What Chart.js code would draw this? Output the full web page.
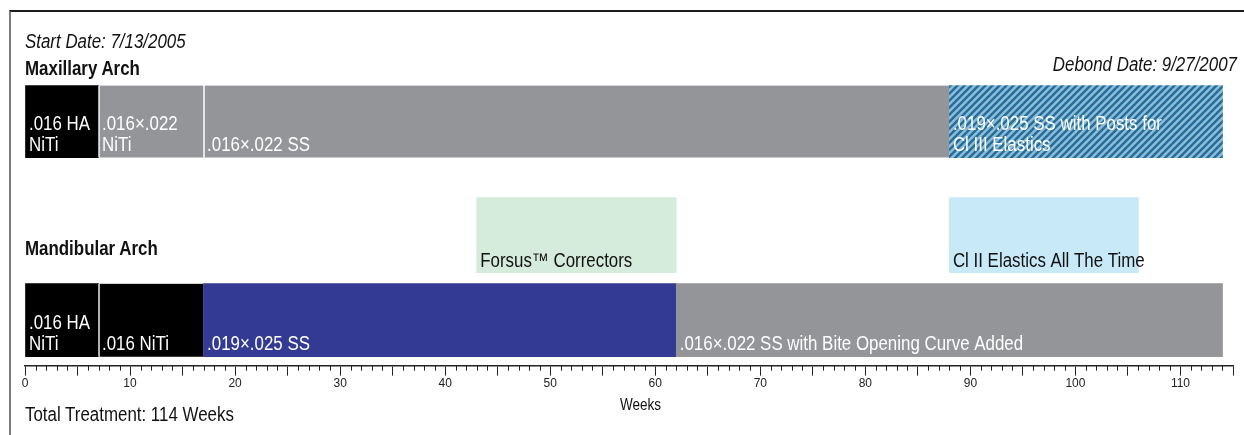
<!DOCTYPE html>
<html>
<head>
<meta charset="utf-8">
<script src="https://cdn.jsdelivr.net/npm/chart.js@4"></script>
<style>
  body { margin: 0; background: #fff; }
  #wrap { position: relative; width: 1244px; height: 435px; overflow: hidden; font-family: 'Liberation Sans', Arial, sans-serif; color: #111; }
  #frame { position: absolute; left: 9px; top: 10px; width: 1300px; height: 500px; border-top: 2px solid #1c1c1c; border-left: 2px solid #7d7d7d; }
  .note { position: absolute; font-size: 20px; line-height: 20px; white-space: nowrap; transform: scaleX(0.845); transform-origin: left top; }
  .it { font-style: italic; }
  .bd { font-weight: bold; }
  canvas { position: absolute; left: 0; top: 0; }
</style>
</head>
<body>
<div id="wrap">
  <div id="frame"></div>
  <canvas id="myChart" width="1244" height="435"></canvas>
  <div class="note it" style="left:25px; top:31px;">Start Date: 7/13/2005</div>
  <div class="note bd" style="left:25px; top:58px;">Maxillary Arch</div>
  <div class="note it" style="right:7px; top:54px; transform-origin: right top;">Debond Date: 9/27/2007</div>
  <div class="note bd" style="left:25px; top:238px;">Mandibular Arch</div>
  <div class="note" style="left:25px; top:404px;">Total Treatment: 114 Weeks</div>
  <div class="note" style="left:620px; top:397px; font-size:16px; line-height:16px;">Weeks</div>
</div>
<script>
'use strict';

// DATA
let maxillaryWires = ['.016 HA\nNiTi', '.016×.022\nNiTi', '.016×.022 SS', '.019×.025 SS with Posts for\nCl III Elastics'];
let maxillaryWeeks = [[0, 7], [7, 17], [17, 88], [88, 114]];

let applianceNames = ['Forsus™ Correctors', 'Cl II Elastics All The Time'];
let applianceWeeks = [[43, 62], [88, 106]];

let mandibularWires = ['.016 HA\nNiTi', '.016 NiTi', '.019×.025 SS', '.016×.022 SS with Bite Opening Curve Added'];
let mandibularWeeks = [[0, 7], [7, 17], [17, 62], [62, 114]];

let weekTicks = [0, 10, 20, 30, 40, 50, 60, 70, 80, 90, 100, 110];
let totalWeeks = 115;

// LAYOUT / STYLE
let FONT = "'Liberation Sans', Arial, sans-serif";
let NARROW = 0.845;
let rowMax = 1.5;
let rowApp = 5.5;
let rowMand = 8.5;

// hatched fill for the last upper wire
function makeHatch() {
  let c = document.createElement('canvas');
  c.width = 7;
  c.height = 7;
  let g = c.getContext('2d');
  g.fillStyle = '#91bcd8';
  g.fillRect(0, 0, 7, 7);
  g.strokeStyle = '#236f9c';
  g.lineWidth = 2.5;
  g.beginPath();
  g.moveTo(-1, 8); g.lineTo(8, -1);
  g.moveTo(-4.5, 4.5); g.lineTo(4.5, -4.5);
  g.moveTo(2.5, 11.5); g.lineTo(11.5, 2.5);
  g.stroke();
  return g.createPattern(c, 'repeat');
}

let maxColors = ['#000000', '#939598', '#939598', makeHatch()];
let maxSeps = [0, 1.5, 1.5, 0];
let appColors = ['#d5ebdc', '#c7e9f8'];
let mandColors = ['#000000', '#000000', '#333a93', '#939598'];
let mandSeps = [0, 1.5, 0, 0];

function toPoints(weeks, row) {
  let pts = [];
  for (let i = 0; i < weeks.length; i++) {
    pts.push({ x: weeks[i], y: row });
  }
  return pts;
}

function sepBorders(seps) {
  return seps.map(s => ({ left: s, right: 0, top: 0, bottom: 0 }));
}

// bar text, bottom-left inside each segment
let barLabels = {
  id: 'barLabels',
  afterDatasetsDraw(chart) {
    let ctx = chart.ctx;
    chart.data.datasets.forEach((ds, di) => {
      let meta = chart.getDatasetMeta(di);
      meta.data.forEach((bar, i) => {
        let p = bar.getProps(['x', 'base', 'y', 'height'], true);
        let left = Math.min(p.x, p.base);
        let bottom = p.y + p.height / 2;
        let lines = ds.names[i].split('\n');
        for (let k = 0; k < lines.length; k++) {
          let off = (lines.length - 1 - k) * 21;
          ctx.save();
          ctx.translate(left + 3.5, bottom - ds.textLift - off);
          ctx.scale(NARROW, 1);
          ctx.font = '20px ' + FONT;
          ctx.textBaseline = 'alphabetic';
          ctx.fillStyle = ds.textColor;
          ctx.fillText(lines[k], 0, 0);
          ctx.restore();
        }
      });
    });
  }
};

// one-week minor ticks under the axis
let minorTicks = {
  id: 'minorTicks',
  afterDraw(chart) {
    let sc = chart.scales.x;
    let ctx = chart.ctx;
    ctx.save();
    ctx.strokeStyle = '#222';
    ctx.lineWidth = 1;
    ctx.beginPath();
    for (let v = 0; v <= totalWeeks; v++) {
      if (v % 5 === 0) continue;
      let px = Math.round(sc.getPixelForValue(v)) + 0.5;
      ctx.moveTo(px, sc.top);
      ctx.lineTo(px, sc.top + 5);
    }
    ctx.stroke();
    ctx.restore();
  }
};

const ctx = document.getElementById('myChart').getContext('2d');
const myChart = new Chart(ctx, {
  type: 'bar',
  data: {
    datasets: [
      {
        data: toPoints(maxillaryWeeks, rowMax),
        names: maxillaryWires,
        backgroundColor: maxColors,
        borderColor: '#ffffff',
        borderWidth: sepBorders(maxSeps),
        barThickness: 72,
        textColor: '#ffffff',
        textLift: 7
      },
      {
        data: toPoints(applianceWeeks, rowApp),
        names: applianceNames,
        backgroundColor: appColors,
        borderWidth: 0,
        barThickness: 75,
        textColor: '#111111',
        textLift: 6
      },
      {
        data: toPoints(mandibularWeeks, rowMand),
        names: mandibularWires,
        backgroundColor: mandColors,
        borderColor: '#ffffff',
        borderWidth: sepBorders(mandSeps),
        barThickness: 73,
        textColor: '#ffffff',
        textLift: 7
      }
    ]
  },
  options: {
    indexAxis: 'y',
    responsive: false,
    animation: false,
    grouped: false,
    borderSkipped: false,
    layout: { padding: { left: 25, right: 11, top: 79, bottom: 43 } },
    plugins: {
      legend: { display: false },
      tooltip: { enabled: false }
    },
    scales: {
      y: {
        type: 'linear',
        display: false,
        offset: false,
        reverse: true,
        min: 0,
        max: 10.1
      },
      x: {
        type: 'linear',
        min: 0,
        max: totalWeeks,
        border: { display: true, color: '#222', width: 1.5 },
        grid: { drawOnChartArea: false, drawTicks: true, tickLength: 10, color: '#222', lineWidth: 1 },
        ticks: {
          stepSize: 5,
          autoSkip: false,
          maxRotation: 0,
          padding: 1,
          color: '#222',
          font: { size: 12, family: FONT },
          callback: v => (weekTicks.includes(v) ? String(v) : '')
        }
      }
    }
  },
  plugins: [barLabels, minorTicks]
});
</script>
</body>
</html>
